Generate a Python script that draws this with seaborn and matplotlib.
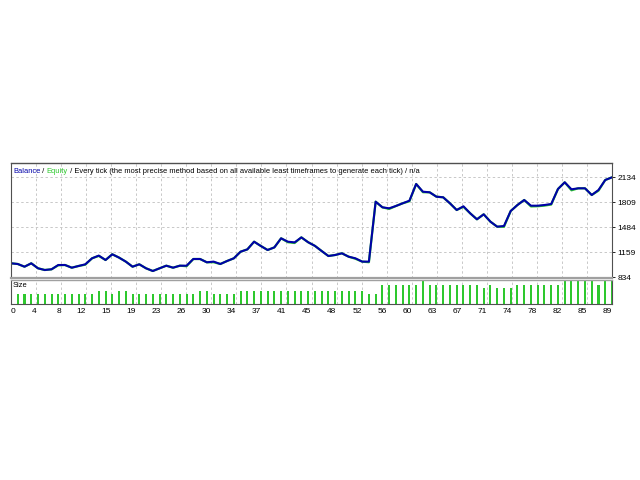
import numpy as np
import pandas as pd
import matplotlib
matplotlib.use("Agg")
import matplotlib.pyplot as plt
import seaborn as sns

# ---- data ----
balance = [1016, 1007, 972, 1016, 951, 929, 938, 994, 994, 959,
           981, 1003, 1081, 1116, 1059, 1133, 1090, 1038, 972, 1003,
           951, 916, 951, 985, 959, 985, 985, 1072, 1072, 1029,
           1038, 1007, 1046, 1081, 1167, 1197, 1297, 1241, 1189, 1223,
           1341, 1297, 1288, 1353, 1290, 1243, 1176, 1111, 1124, 1146,
           1102, 1081, 1038, 1038, 1817, 1744, 1731, 1761, 1796, 1830,
           2047, 1947, 1939, 1882, 1874, 1796, 1709, 1757, 1666, 1588,
           1653, 1557, 1492, 1501, 1696, 1774, 1839, 1765, 1765, 1774,
           1787, 1982, 2069, 1978, 1991, 1991, 1904, 1969, 2099, 2134]
equity = [1016, 1007, 972, 1016, 951, 929, 938, 990, 994, 959,
          981, 998, 1081, 1112, 1059, 1133, 1090, 1038, 972, 1003,
          951, 916, 951, 985, 959, 985, 978, 1072, 1072, 1029,
          1030, 1007, 1046, 1081, 1167, 1197, 1297, 1241, 1189, 1223,
          1341, 1290, 1280, 1353, 1290, 1243, 1176, 1111, 1124, 1146,
          1102, 1075, 1038, 1030, 1817, 1744, 1722, 1761, 1796, 1822,
          2047, 1940, 1939, 1882, 1874, 1796, 1709, 1750, 1666, 1588,
          1653, 1557, 1492, 1490, 1696, 1774, 1839, 1755, 1758, 1766,
          1780, 1982, 2069, 1965, 1991, 1991, 1904, 1960, 2099, 2134]
sizes = ([0.03] * 12 + [0.04] * 2 + [0.03] + [0.04] * 2 + [0.03] * 10 +
         [0.04] * 2 + [0.03] * 4 + [0.04] * 19 + [0.03] * 2 + [0.06] * 6 +
         [0.07] + [0.06] * 8 + [0.05] + [0.06] + [0.05] * 3 + [0.06] * 7 +
         [0.07] * 5 + [0.06] + [0.07] * 2)
y_ticks = [834, 1159, 1484, 1809, 2134]
x_tick_labels = ["0", "4", "8", "12", "15", "19", "23", "26", "30", "34", "37",
                 "41", "45", "48", "52", "56", "60", "63", "67", "71", "74",
                 "78", "82", "85", "89"]

points = list(range(len(balance)))
trades = list(range(1, len(sizes) + 1))

df_line = pd.DataFrame({"n": points, "balance": balance, "equity": equity})
df_size = pd.DataFrame({"n": trades, "size": sizes})

# ---- style ----
sns.set_style("white")
plt.rcParams["font.family"] = ["Liberation Sans", "DejaVu Sans"]
FS_T = 5.4
FS = 6.0
BLUE = "#0000a8"
GREEN = "#2ec82e"
FRAME = "#505050"
SEP = "#a0a0a0"
GRID = "#c8c8c8"

fig = plt.figure(figsize=(6.4, 4.8), dpi=100)
W, H = 640.0, 480.0
left, right = 11 / W, 612 / W
ax = fig.add_axes([left, 1 - 278 / H, right - left, (278 - 163) / H])
ax2 = fig.add_axes([left, 1 - 304 / H, right - left, (304 - 279.5) / H])

# main panel
sns.lineplot(data=df_line, x="n", y="equity", ax=ax, color=GREEN, linewidth=1.6)
sns.lineplot(data=df_line, x="n", y="balance", ax=ax, color=BLUE, linewidth=1.5)
ax.set_xlim(0, 89)
ax.set_ylim(825, 2320)
grid_x = [i * 89 / 24 for i in range(len(x_tick_labels))]
for gx in grid_x[1:-1]:
    ax.axvline(gx, color=GRID, lw=0.7, ls=(0, (2.5, 2.5)), zorder=0)
for gy in y_ticks[1:]:
    ax.axhline(gy, color=GRID, lw=0.7, ls=(0, (2.5, 2.5)), zorder=0)
ax.set_xticks([])
ax.yaxis.tick_right()
ax.set_yticks(y_ticks)
ax.set_yticklabels([str(v) for v in y_ticks], fontsize=FS)
ax.tick_params(axis="y", length=2.5, width=0.6, pad=1.5, colors="black")
ax.set_xlabel("")
ax.set_ylabel("")
for s in ["left", "top", "right"]:
    ax.spines[s].set_color(FRAME)
    ax.spines[s].set_linewidth(0.8)
ax.spines["bottom"].set_color(SEP)
ax.spines["bottom"].set_linewidth(1.6)
ax.spines["top"].set_linewidth(1.0)

# title, multi-coloured
parts = [("Balance", BLUE), (" / ", "black"), ("Equity", GREEN),
         (" / Every tick (the most precise method based on all available least timeframes to generate each tick) / n/a", "black")]
fig.canvas.draw()
renderer = fig.canvas.get_renderer()
xpix = 13.0
for txt, col in parts:
    t = fig.text(xpix / W, 1 - 171.5 / H, txt, color=col, fontsize=FS_T, va="center", ha="left")
    bb = t.get_window_extent(renderer=renderer)
    xpix += bb.width

# size panel
sns.barplot(data=df_size, x="n", y="size", ax=ax2, native_scale=True, width=0.3,
            color=GREEN, errorbar=None, linewidth=0, saturation=1)
ax2.set_xlim(0, 89)
ax2.set_ylim(0, 0.0754)
for gx in grid_x[1:-1]:
    ax2.axvline(gx, color=GRID, lw=0.7, ls=(0, (2.5, 2.5)), zorder=0)
ax2.set_yticks([])
ax2.set_xticks(grid_x)
ax2.set_xticklabels(x_tick_labels, fontsize=FS)
for i, lab in enumerate(ax2.get_xticklabels()):
    lab.set_ha("left" if i == 0 else "right")
ax2.tick_params(axis="x", length=2.5, width=0.6, pad=0.3, colors="black")
ax2.set_xlabel("")
ax2.set_ylabel("")
for s in ["left", "bottom", "right"]:
    ax2.spines[s].set_color(FRAME)
    ax2.spines[s].set_linewidth(0.8)
ax2.spines["top"].set_color(SEP)
ax2.spines["top"].set_linewidth(1.0)
ax2.text(13 / W, 1 - 285.5 / H, "Size", transform=fig.transFigure, fontsize=FS_T,
         va="center", ha="left", color="black")

fig.savefig("out.png", dpi=100)
